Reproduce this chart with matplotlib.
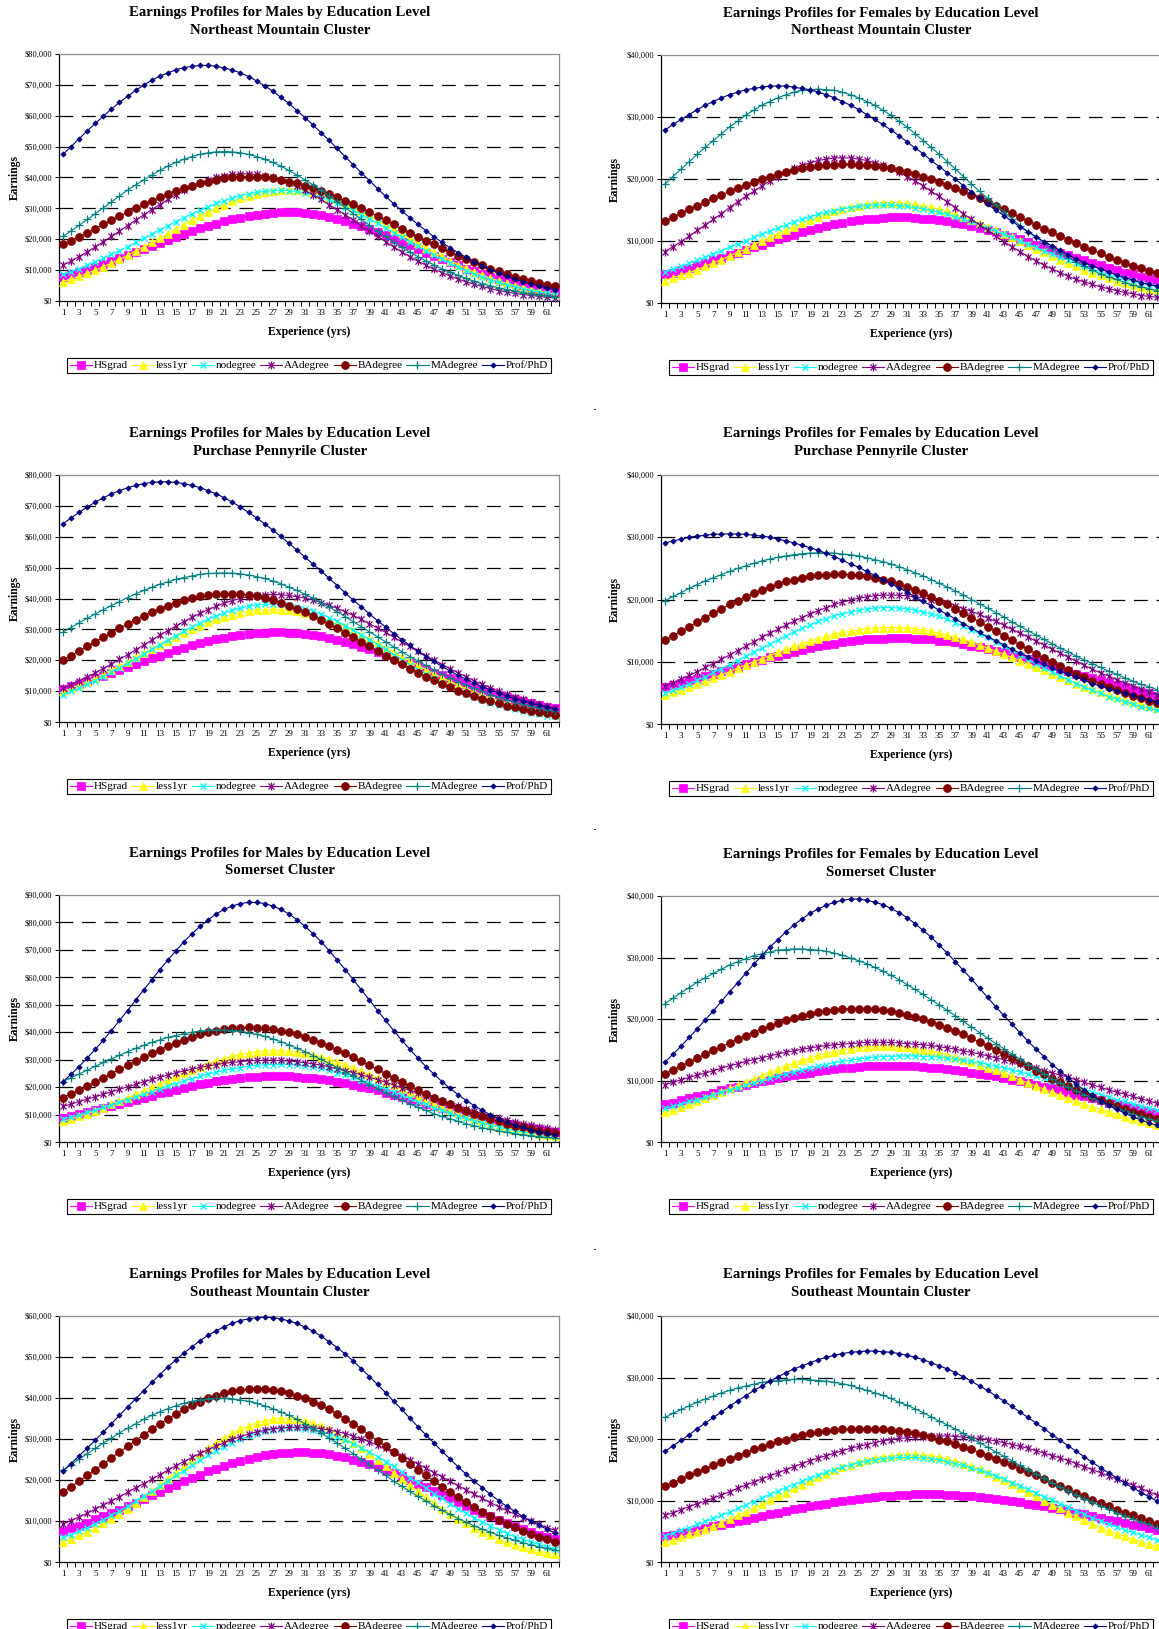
#!/usr/bin/env python3
"""
Earnings profiles by education level, males and females, four clusters.
Values are earnings in thousands of dollars for experience years 1..62.
"""

import matplotlib
matplotlib.use('Agg')
import matplotlib.pyplot as plt
from matplotlib.lines import Line2D
from matplotlib.path import Path
from matplotlib.patches import Rectangle
from matplotlib.ticker import FuncFormatter, MultipleLocator
import numpy as np

# ---- Northeast Mountain, males
nem_hsgrad = [7.9,8.6,9.4,10.2,11.1,12.0,12.9,13.9,14.8,15.8,16.8,17.8,18.8,19.8,20.8,21.7,22.6,23.5,24.3,25.1,25.8,26.5,27.0,27.5,28.0,28.3,28.5,28.7,28.7,28.7,28.5,28.2,27.8,27.2,26.6,25.9,25.1,24.3,23.3,22.3,21.3,20.2,19.1,18.0,16.9,15.7,14.7,13.6,12.5,11.5,10.5,9.6,8.7,7.9,7.1,6.4,5.7,5.0,4.5,3.9,3.5,3.0]
nem_less1yr = [6.3,7.1,8.0,9.0,10.0,11.1,12.3,13.5,14.8,16.2,17.5,19.0,20.4,21.8,23.3,24.7,26.2,27.5,28.8,30.1,31.2,32.3,33.2,34.1,34.7,35.3,35.7,35.9,36.0,35.9,35.6,35.2,34.6,33.8,32.9,31.8,30.6,29.3,27.9,26.5,25.0,23.4,21.9,20.4,18.8,17.3,15.8,14.5,13.1,11.8,10.6,9.4,8.4,7.4,6.5,5.7,5.0,4.3,3.7,3.2,2.7,2.3]
nem_nodegree = [8.6,9.5,10.5,11.6,12.7,13.9,15.1,16.3,17.6,19.0,20.3,21.7,23.0,24.4,25.7,27.0,28.2,29.4,30.5,31.6,32.5,33.4,34.1,34.7,35.2,35.5,35.7,35.8,35.7,35.5,35.0,34.4,33.7,32.8,31.8,30.6,29.4,28.0,26.6,25.2,23.6,22.1,20.6,19.1,17.7,16.3,14.8,13.5,12.2,11.0,9.8,8.8,7.8,6.9,6.0,5.3,4.6,4.0,3.4,2.9,2.5,2.1]
nem_aadegree = [11.6,12.9,14.4,15.9,17.5,19.2,20.9,22.6,24.4,26.2,27.9,29.6,31.2,32.9,34.4,35.8,37.1,38.2,39.2,40.0,40.6,41.0,41.2,41.2,41.0,40.6,40.0,39.2,38.2,37.1,35.8,34.4,32.9,31.2,29.6,27.9,26.2,24.4,22.6,20.9,19.2,17.5,15.9,14.4,12.9,11.6,10.3,9.2,8.1,7.1,6.2,5.4,4.7,4.0,3.4,2.9,2.5,2.1,1.8,1.5,1.2,1.0]
nem_badegree = [18.3,19.5,20.8,22.1,23.4,24.8,26.1,27.5,28.7,30.0,31.3,32.4,33.6,34.6,35.6,36.5,37.4,38.1,38.7,39.3,39.7,40.0,40.1,40.2,40.1,40.0,39.7,39.3,38.7,38.1,37.4,36.5,35.6,34.6,33.6,32.4,31.3,30.0,28.7,27.5,26.1,24.8,23.4,22.1,20.8,19.5,18.3,17.1,15.8,14.7,13.6,12.5,11.5,10.5,9.6,8.8,7.9,7.2,6.5,5.8,5.2,4.7]
nem_madegree = [20.9,22.7,24.5,26.4,28.3,30.2,32.1,34.0,35.9,37.6,39.2,40.8,42.3,43.7,44.9,45.9,46.8,47.5,48.0,48.3,48.4,48.3,48.0,47.5,46.8,45.9,44.9,43.7,42.3,40.8,39.2,37.6,35.9,34.0,32.1,30.2,28.3,26.4,24.5,22.7,20.9,19.2,17.5,15.9,14.4,13.0,11.7,10.4,9.3,8.3,7.3,6.4,5.6,4.9,4.3,3.7,3.2,2.7,2.3,2.0,1.7,1.4]
nem_profphd = [47.5,50.0,52.6,55.1,57.5,59.9,62.2,64.3,66.3,68.2,69.9,71.5,72.8,73.9,74.9,75.6,76.0,76.3,76.3,76.0,75.5,74.8,73.9,72.7,71.3,69.7,68.0,66.0,64.0,61.7,59.4,57.0,54.5,52.0,49.4,46.7,44.1,41.5,39.0,36.4,33.9,31.5,29.2,27.0,24.8,22.8,20.8,19.0,17.2,15.6,14.1,12.7,11.4,10.2,9.1,8.0,7.1,6.3,5.5,4.9,4.2,3.7]

# ---- Northeast Mountain, females
nef_hsgrad = [4.6,4.9,5.3,5.7,6.1,6.5,6.9,7.3,7.7,8.1,8.6,9.0,9.4,9.8,10.3,10.7,11.0,11.4,11.8,12.1,12.4,12.7,12.9,13.2,13.4,13.5,13.6,13.7,13.8,13.8,13.8,13.7,13.6,13.5,13.4,13.2,12.9,12.7,12.4,12.1,11.8,11.4,11.0,10.7,10.3,9.8,9.4,9.0,8.6,8.1,7.7,7.3,6.9,6.5,6.1,5.7,5.3,4.9,4.6,4.2,3.9,3.6]
nef_less1yr = [3.6,4.1,4.5,4.9,5.4,5.9,6.5,7.0,7.6,8.2,8.7,9.4,10.0,10.6,11.2,11.8,12.3,12.9,13.4,13.9,14.3,14.8,15.1,15.5,15.7,15.9,16.1,16.2,16.2,16.2,16.1,15.9,15.7,15.5,15.1,14.8,14.3,13.9,13.4,12.9,12.3,11.8,11.2,10.6,10.0,9.4,8.7,8.2,7.6,7.0,6.5,5.9,5.4,4.9,4.5,4.1,3.6,3.3,2.9,2.6,2.3,2.1]
nef_nodegree = [5.0,5.5,5.9,6.4,6.9,7.4,7.9,8.4,9.0,9.5,10.0,10.6,11.1,11.6,12.1,12.6,13.1,13.5,13.9,14.3,14.6,14.9,15.2,15.4,15.6,15.7,15.8,15.8,15.8,15.7,15.6,15.4,15.2,14.9,14.6,14.3,13.9,13.5,13.1,12.6,12.1,11.6,11.1,10.6,10.0,9.5,9.0,8.4,7.9,7.4,6.9,6.4,5.9,5.5,5.0,4.6,4.2,3.8,3.5,3.2,2.9,2.6]
nef_aadegree = [8.3,9.1,9.9,10.8,11.7,12.6,13.5,14.4,15.4,16.3,17.2,18.0,18.9,19.7,20.4,21.1,21.7,22.2,22.6,23.0,23.2,23.4,23.4,23.4,23.2,23.0,22.6,22.2,21.7,21.1,20.4,19.7,18.9,18.0,17.2,16.3,15.4,14.4,13.5,12.6,11.7,10.8,9.9,9.1,8.3,7.5,6.8,6.1,5.5,4.9,4.3,3.8,3.4,3.0,2.6,2.3,2.0,1.7,1.5,1.2,1.1,0.9]
nef_badegree = [13.3,13.8,14.5,15.1,15.7,16.3,16.9,17.4,18.0,18.5,19.0,19.5,20.0,20.4,20.8,21.1,21.4,21.7,21.9,22.1,22.2,22.3,22.4,22.4,22.3,22.2,22.1,21.9,21.7,21.4,21.1,20.8,20.4,20.0,19.5,19.0,18.5,18.0,17.4,16.9,16.3,15.7,15.1,14.5,13.8,13.3,12.6,12.0,11.4,10.8,10.2,9.6,9.1,8.5,8.0,7.4,7.0,6.5,6.0,5.6,5.2,4.8]
nef_madegree = [19.2,20.4,21.6,22.8,24.0,25.1,26.2,27.3,28.4,29.3,30.3,31.1,31.9,32.5,33.1,33.6,34.0,34.3,34.4,34.5,34.4,34.3,34.0,33.6,33.1,32.5,31.9,31.1,30.3,29.3,28.4,27.3,26.2,25.1,24.0,22.8,21.6,20.4,19.2,18.0,16.9,15.8,14.7,13.6,12.5,11.5,10.6,9.7,8.8,8.0,7.3,6.6,5.9,5.3,4.7,4.2,3.8,3.3,2.9,2.6,2.3,2.0]
nef_profphd = [27.9,28.8,29.6,30.4,31.2,31.9,32.5,33.1,33.6,34.0,34.4,34.6,34.8,35.0,35.0,35.0,34.8,34.6,34.4,34.0,33.6,33.1,32.5,31.9,31.2,30.4,29.6,28.8,27.9,27.0,26.0,25.0,24.1,23.0,22.0,21.0,20.0,18.9,17.9,16.9,15.9,15.0,14.1,13.2,12.3,11.5,10.7,9.9,9.2,8.5,7.8,7.1,6.5,6.0,5.5,5.0,4.5,4.1,3.7,3.3,3.0,2.7]

# ---- Purchase Pennyrile, males
ppm_hsgrad = [10.7,11.5,12.4,13.2,14.1,15.0,16.0,16.9,17.8,18.8,19.7,20.6,21.5,22.4,23.2,24.0,24.8,25.5,26.2,26.8,27.3,27.8,28.2,28.5,28.7,28.9,29.0,29.0,28.9,28.7,28.5,28.1,27.7,27.2,26.6,25.9,25.2,24.4,23.6,22.7,21.8,20.9,19.9,19.0,18.0,17.0,16.0,15.1,14.1,13.2,12.2,11.4,10.5,9.7,8.9,8.2,7.5,6.8,6.2,5.6,5.0,4.5]
ppm_less1yr = [9.9,10.9,12.0,13.1,14.3,15.6,16.9,18.2,19.5,20.9,22.3,23.6,25.0,26.3,27.6,28.9,30.1,31.2,32.3,33.2,34.1,34.8,35.4,35.9,36.2,36.4,36.5,36.4,36.2,35.8,35.3,34.6,33.8,32.9,31.9,30.8,29.5,28.2,26.9,25.5,24.1,22.7,21.2,19.8,18.4,17.0,15.6,14.4,13.1,11.9,10.8,9.7,8.7,7.8,6.9,6.1,5.4,4.8,4.2,3.6,3.1,2.7]
ppm_nodegree = [8.9,9.9,11.0,12.2,13.4,14.7,16.1,17.5,19.0,20.5,22.0,23.5,25.0,26.5,28.0,29.4,30.8,32.1,33.3,34.4,35.3,36.2,36.9,37.5,37.9,38.1,38.2,38.1,37.8,37.4,36.7,35.9,34.9,33.8,32.6,31.2,29.8,28.3,26.7,25.1,23.5,21.8,20.2,18.6,17.0,15.5,14.1,12.7,11.4,10.2,9.1,8.1,7.1,6.2,5.4,4.7,4.1,3.5,3.0,2.5,2.1,1.8]
ppm_aadegree = [10.9,12.1,13.3,14.6,15.9,17.3,18.8,20.3,21.8,23.4,24.9,26.5,28.1,29.6,31.1,32.5,33.9,35.2,36.4,37.5,38.5,39.3,40.0,40.6,41.0,41.2,41.3,41.2,41.0,40.6,40.1,39.5,38.7,37.8,36.8,35.7,34.5,33.2,31.8,30.4,29.0,27.5,26.0,24.5,22.9,21.4,20.0,18.6,17.2,15.9,14.6,13.3,12.2,11.1,10.0,9.0,8.1,7.3,6.5,5.8,5.1,4.5]
ppm_badegree = [20.1,21.5,23.0,24.5,26.0,27.4,28.9,30.3,31.7,33.1,34.4,35.6,36.7,37.7,38.7,39.5,40.2,40.7,41.2,41.4,41.6,41.6,41.4,41.2,40.7,40.2,39.5,38.7,37.7,36.7,35.6,34.4,33.1,31.7,30.3,28.9,27.4,26.0,24.5,23.0,21.5,20.1,18.7,17.3,16.0,14.7,13.5,12.3,11.3,10.2,9.3,8.3,7.5,6.7,6.0,5.3,4.7,4.2,3.7,3.2,2.8,2.4]
ppm_madegree = [29.2,30.6,32.1,33.6,35.0,36.4,37.7,39.0,40.3,41.5,42.6,43.6,44.6,45.4,46.2,46.8,47.3,47.8,48.1,48.2,48.3,48.2,48.0,47.6,47.1,46.5,45.7,44.8,43.7,42.6,41.4,40.1,38.6,37.2,35.7,34.1,32.5,30.9,29.2,27.6,26.0,24.4,22.8,21.2,19.8,18.3,16.9,15.6,14.3,13.1,12.0,10.9,9.9,8.9,8.0,7.2,6.5,5.8,5.1,4.6,4.0,3.6]
ppm_profphd = [64.2,66.1,67.9,69.6,71.2,72.6,73.9,74.9,75.9,76.6,77.2,77.6,77.8,77.8,77.6,77.2,76.6,75.9,74.9,73.9,72.6,71.2,69.6,67.9,66.1,64.2,62.2,60.1,57.9,55.7,53.4,51.1,48.9,46.5,44.2,41.8,39.4,37.3,35.0,32.8,30.8,28.6,26.7,24.8,22.9,21.2,19.6,18.0,16.5,15.1,13.8,12.6,11.4,10.4,9.4,8.4,7.6,6.8,6.1,5.4,4.8,4.3]

# ---- Purchase Pennyrile, females
ppf_hsgrad = [5.9,6.3,6.6,7.0,7.3,7.7,8.1,8.5,8.8,9.2,9.6,9.9,10.3,10.7,11.0,11.3,11.6,11.9,12.2,12.5,12.7,12.9,13.1,13.3,13.5,13.6,13.7,13.7,13.8,13.8,13.8,13.7,13.7,13.6,13.4,13.3,13.1,12.9,12.6,12.4,12.1,11.8,11.5,11.1,10.8,10.4,10.1,9.7,9.3,8.9,8.5,8.1,7.7,7.4,7.0,6.6,6.2,5.9,5.5,5.2,4.9,4.5]
ppf_less1yr = [4.7,5.1,5.5,6.0,6.5,6.9,7.4,7.9,8.4,9.0,9.5,10.0,10.5,11.0,11.5,12.0,12.5,12.9,13.3,13.7,14.1,14.4,14.7,14.9,15.1,15.3,15.4,15.5,15.5,15.5,15.4,15.3,15.1,14.9,14.6,14.3,14.0,13.6,13.2,12.7,12.2,11.7,11.2,10.7,10.2,9.6,9.1,8.6,8.0,7.5,7.0,6.5,6.0,5.6,5.1,4.7,4.3,3.9,3.5,3.2,2.9,2.6]
ppf_nodegree = [4.9,5.4,5.9,6.5,7.0,7.6,8.3,8.9,9.5,10.2,10.9,11.5,12.2,12.9,13.5,14.2,14.8,15.4,15.9,16.5,16.9,17.4,17.7,18.0,18.3,18.5,18.6,18.7,18.7,18.6,18.5,18.3,18.0,17.7,17.3,16.8,16.3,15.7,15.1,14.5,13.9,13.2,12.5,11.9,11.1,10.4,9.7,9.0,8.4,7.7,7.1,6.5,5.9,5.4,4.9,4.4,4.0,3.6,3.2,2.8,2.5,2.2]
ppf_aadegree = [6.1,6.6,7.2,7.8,8.4,9.1,9.7,10.4,11.1,11.8,12.5,13.2,13.9,14.6,15.2,15.9,16.5,17.1,17.7,18.2,18.7,19.2,19.6,19.9,20.2,20.4,20.6,20.7,20.7,20.7,20.6,20.4,20.3,20.0,19.7,19.4,19.0,18.5,18.1,17.6,17.0,16.5,15.9,15.2,14.6,14.0,13.3,12.7,12.0,11.4,10.7,10.1,9.4,8.8,8.2,7.7,7.1,6.6,6.1,5.6,5.1,4.7]
ppf_badegree = [13.5,14.2,14.9,15.6,16.4,17.1,17.8,18.5,19.2,19.8,20.4,21.0,21.5,22.0,22.5,22.9,23.2,23.5,23.7,23.9,24.0,24.1,24.1,24.0,23.9,23.7,23.5,23.2,22.9,22.5,22.0,21.5,21.0,20.4,19.8,19.2,18.5,17.8,17.1,16.4,15.6,14.9,14.2,13.5,12.7,12.0,11.3,10.6,9.9,9.3,8.7,8.0,7.5,6.9,6.4,5.9,5.4,4.9,4.5,4.1,3.7,3.4]
ppf_madegree = [19.8,20.5,21.1,21.8,22.4,23.0,23.5,24.0,24.5,25.0,25.4,25.8,26.2,26.5,26.8,27.0,27.2,27.35,27.45,27.5,27.5,27.45,27.3,27.2,27.0,26.7,26.4,26.1,25.7,25.3,24.8,24.3,23.8,23.2,22.6,22.0,21.4,20.7,20.0,19.3,18.6,17.9,17.2,16.4,15.7,15.0,14.3,13.6,12.9,12.2,11.6,10.9,10.3,9.7,9.1,8.5,8.0,7.4,6.9,6.4,6.0,5.5]
ppf_profphd = [29.1,29.4,29.7,30.0,30.2,30.3,30.5,30.5,30.55,30.5,30.5,30.3,30.2,30.0,29.7,29.4,29.1,28.7,28.3,27.9,27.4,26.9,26.3,25.7,25.2,24.5,23.9,23.2,22.5,21.9,21.2,20.4,19.7,19.0,18.3,17.6,16.9,16.1,15.4,14.7,14.0,13.4,12.7,12.0,11.4,10.8,10.2,9.6,9.0,8.5,8.0,7.5,7.0,6.5,6.1,5.7,5.3,4.9,4.6,4.2,3.9,3.6]

# ---- Somerset, males
som_hsgrad = [8.7,9.3,10.1,10.8,11.5,12.3,13.0,13.8,14.6,15.4,16.2,16.9,17.7,18.4,19.1,19.8,20.5,21.1,21.6,22.1,22.6,23.0,23.3,23.6,23.8,23.9,24.0,24.0,23.9,23.8,23.5,23.2,22.9,22.5,22.0,21.4,20.8,20.2,19.5,18.8,18.0,17.3,16.5,15.7,14.8,14.0,13.2,12.4,11.6,10.8,10.1,9.4,8.6,8.0,7.3,6.7,6.1,5.6,5.1,4.6,4.1,3.7]
som_less1yr = [7.5,8.4,9.3,10.3,11.4,12.5,13.7,14.9,16.1,17.4,18.7,20.0,21.3,22.6,23.9,25.2,26.4,27.5,28.6,29.6,30.4,31.2,31.9,32.4,32.9,33.1,33.3,33.3,33.1,32.8,32.4,31.8,31.1,30.2,29.3,28.2,27.1,25.9,24.6,23.3,22.0,20.6,19.2,17.9,16.5,15.2,14.0,12.7,11.6,10.5,9.5,8.4,7.6,6.7,5.9,5.2,4.6,4.0,3.5,3.0,2.6,2.2]
som_nodegree = [8.3,9.1,9.9,10.8,11.6,12.6,13.5,14.5,15.4,16.4,17.4,18.4,19.4,20.4,21.3,22.2,23.1,23.9,24.7,25.4,26.1,26.6,27.1,27.6,27.9,28.1,28.2,28.3,28.2,28.0,27.7,27.3,26.8,26.1,25.3,24.5,23.6,22.6,21.6,20.5,19.3,18.2,17.1,15.9,14.7,13.7,12.5,11.5,10.5,9.5,8.6,7.7,6.9,6.2,5.5,4.8,4.3,3.7,3.3,2.8,2.4,2.1]
som_aadegree = [13.0,13.8,14.7,15.6,16.5,17.4,18.3,19.2,20.1,21.0,21.9,22.8,23.6,24.4,25.2,25.9,26.5,27.2,27.7,28.2,28.7,29.0,29.3,29.6,29.7,29.8,29.8,29.7,29.5,29.3,28.9,28.5,28.0,27.4,26.7,26.0,25.3,24.4,23.6,22.7,21.8,20.8,19.8,18.8,17.9,16.9,15.9,14.9,13.9,13.0,12.1,11.2,10.4,9.6,8.8,8.1,7.4,6.7,6.1,5.5,5.0,4.5]
som_badegree = [16.2,17.6,18.9,20.4,21.8,23.4,24.9,26.5,27.9,29.4,30.9,32.3,33.6,35.0,36.2,37.3,38.3,39.2,40.0,40.6,41.1,41.5,41.7,41.8,41.7,41.5,41.1,40.6,40.0,39.2,38.3,37.3,36.2,35.0,33.6,32.3,30.9,29.4,27.9,26.5,24.9,23.4,21.8,20.4,18.9,17.6,16.2,14.9,13.7,12.5,11.3,10.3,9.3,8.4,7.5,6.7,6.0,5.3,4.7,4.1,3.6,3.2]
som_madegree = [22.0,23.4,24.8,26.2,27.6,29.0,30.3,31.6,32.9,34.1,35.2,36.3,37.2,38.1,38.8,39.5,40.0,40.4,40.65,40.8,40.8,40.6,40.3,39.8,39.2,38.5,37.6,36.6,35.4,34.2,32.9,31.5,30.1,28.6,27.1,25.5,24.0,22.4,20.9,19.4,17.9,16.6,15.2,13.9,12.6,11.5,10.3,9.3,8.4,7.5,6.6,5.9,5.2,4.6,4.0,3.5,3.0,2.6,2.3,1.9,1.7,1.4]
som_profphd = [22.0,24.7,27.5,30.6,33.8,37.1,40.6,44.3,47.9,51.7,55.4,59.1,62.8,66.3,69.7,73.0,75.9,78.6,81.0,83.1,84.8,86.0,86.9,87.3,87.3,86.9,86.0,84.8,83.1,81.0,78.6,75.9,73.0,69.7,66.3,62.8,59.1,55.4,51.7,47.9,44.3,40.6,37.1,33.8,30.6,27.5,24.7,22.0,19.5,17.2,15.1,13.2,11.5,9.9,8.5,7.3,6.2,5.3,4.5,3.7,3.1,2.6]

# ---- Somerset, females
sof_hsgrad = [6.1,6.4,6.8,7.1,7.4,7.7,8.0,8.4,8.7,9.0,9.3,9.6,9.9,10.1,10.4,10.7,10.9,11.1,11.3,11.5,11.7,11.9,12.0,12.1,12.2,12.3,12.4,12.4,12.4,12.4,12.4,12.3,12.2,12.1,12.0,11.9,11.7,11.5,11.3,11.1,10.9,10.7,10.4,10.1,9.9,9.6,9.3,9.0,8.7,8.4,8.0,7.7,7.4,7.1,6.8,6.4,6.1,5.8,5.5,5.2,4.9,4.6]
sof_less1yr = [4.8,5.2,5.7,6.1,6.6,7.1,7.6,8.2,8.7,9.2,9.8,10.3,10.8,11.4,11.9,12.4,12.8,13.3,13.7,14.1,14.4,14.7,15.0,15.2,15.4,15.5,15.6,15.6,15.6,15.5,15.4,15.2,15.0,14.8,14.5,14.2,13.8,13.4,13.0,12.6,12.1,11.7,11.2,10.7,10.1,9.6,9.1,8.6,8.1,7.6,7.1,6.6,6.1,5.7,5.3,4.9,4.5,4.1,3.7,3.4,3.1,2.8]
sof_nodegree = [5.5,5.8,6.2,6.6,6.9,7.3,7.7,8.1,8.5,8.8,9.2,9.6,10.0,10.4,10.7,11.1,11.4,11.7,12.1,12.3,12.6,12.9,13.1,13.3,13.5,13.6,13.8,13.9,13.9,14.0,14.0,14.0,13.9,13.9,13.8,13.6,13.5,13.3,13.1,12.9,12.6,12.3,12.1,11.7,11.4,11.1,10.7,10.4,10.0,9.6,9.2,8.8,8.5,8.1,7.7,7.3,6.9,6.6,6.2,5.8,5.5,5.2]
sof_aadegree = [9.3,9.7,10.1,10.5,10.9,11.2,11.6,12.0,12.4,12.7,13.1,13.4,13.7,14.0,14.3,14.6,14.8,15.1,15.3,15.5,15.7,15.8,15.9,16.0,16.1,16.2,16.2,16.2,16.2,16.1,16.0,15.9,15.8,15.7,15.5,15.3,15.1,14.8,14.6,14.3,14.0,13.7,13.4,13.1,12.7,12.4,12.0,11.6,11.2,10.9,10.5,10.1,9.7,9.3,8.9,8.5,8.1,7.8,7.4,7.0,6.7,6.3]
sof_badegree = [11.1,11.7,12.4,13.0,13.6,14.3,14.9,15.5,16.1,16.7,17.3,17.8,18.4,18.9,19.3,19.8,20.1,20.5,20.8,21.1,21.3,21.5,21.6,21.7,21.7,21.7,21.6,21.5,21.3,21.0,20.7,20.4,20.0,19.5,19.1,18.6,18.0,17.5,16.9,16.2,15.6,15.0,14.3,13.6,13.0,12.3,11.6,11.0,10.3,9.7,9.1,8.5,7.9,7.3,6.8,6.3,5.8,5.3,4.9,4.5,4.1,3.7]
sof_madegree = [22.5,23.4,24.3,25.1,26.0,26.7,27.4,28.1,28.8,29.3,29.8,30.3,30.6,30.9,31.2,31.3,31.4,31.4,31.3,31.2,31.0,30.7,30.4,29.9,29.5,29.0,28.4,27.8,27.1,26.4,25.6,24.8,24.0,23.1,22.3,21.4,20.5,19.6,18.7,17.8,16.9,16.0,15.2,14.3,13.5,12.6,11.8,11.1,10.3,9.6,8.9,8.3,7.7,7.1,6.5,6.0,5.5,5.0,4.6,4.1,3.8,3.4]
sof_profphd = [13.0,14.3,15.6,17.0,18.4,19.9,21.3,22.9,24.4,25.9,27.4,28.9,30.3,31.7,32.9,34.2,35.3,36.3,37.2,37.9,38.5,39.0,39.3,39.5,39.5,39.3,39.0,38.6,38.0,37.3,36.5,35.5,34.4,33.3,32.0,30.7,29.3,27.9,26.5,25.0,23.5,22.0,20.6,19.2,17.8,16.4,15.1,13.9,12.6,11.5,10.4,9.4,8.4,7.6,6.7,6.0,5.3,4.7,4.1,3.6,3.1,2.7]

# ---- Southeast Mountain, males
sem_hsgrad = [7.5,8.2,8.9,9.6,10.4,11.2,12.0,12.8,13.6,14.5,15.4,16.3,17.1,18.0,18.9,19.7,20.5,21.3,22.1,22.8,23.5,24.1,24.7,25.2,25.6,26.0,26.3,26.6,26.7,26.8,26.8,26.7,26.5,26.3,25.9,25.5,25.0,24.5,23.9,23.2,22.5,21.7,20.9,20.0,19.1,18.2,17.3,16.4,15.5,14.6,13.7,12.8,11.9,11.1,10.3,9.5,8.7,8.0,7.3,6.7,6.0,5.5]
sem_less1yr = [4.9,5.6,6.5,7.3,8.3,9.4,10.5,11.7,13.0,14.4,15.8,17.2,18.7,20.3,21.8,23.3,24.8,26.3,27.7,29.0,30.2,31.4,32.4,33.2,33.9,34.4,34.8,35.0,35.0,34.8,34.4,33.9,33.2,32.4,31.4,30.2,29.0,27.7,26.3,24.8,23.3,21.8,20.3,18.7,17.2,15.8,14.4,13.0,11.7,10.5,9.4,8.3,7.3,6.5,5.6,4.9,4.2,3.6,3.1,2.7,2.2,1.9]
sem_nodegree = [6.0,6.7,7.5,8.4,9.3,10.3,11.4,12.4,13.6,14.8,16.0,17.2,18.5,19.8,21.1,22.3,23.6,24.8,26.0,27.1,28.1,29.1,29.9,30.7,31.3,31.9,32.3,32.5,32.7,32.7,32.5,32.3,31.8,31.3,30.6,29.8,28.9,27.9,26.8,25.7,24.5,23.3,22.0,20.6,19.4,18.1,16.7,15.5,14.2,13.0,11.9,10.8,9.8,8.8,7.9,7.0,6.2,5.5,4.9,4.3,3.7,3.2]
sem_aadegree = [9.3,10.1,11.0,11.9,12.9,13.9,14.9,15.9,17.0,18.1,19.1,20.2,21.3,22.4,23.5,24.5,25.5,26.5,27.4,28.3,29.1,29.9,30.6,31.2,31.7,32.1,32.5,32.7,32.85,32.9,32.85,32.7,32.5,32.2,31.8,31.3,30.7,30.0,29.3,28.5,27.7,26.8,25.9,24.9,23.9,22.9,21.8,20.8,19.7,18.6,17.6,16.5,15.5,14.5,13.5,12.6,11.7,10.8,10.0,9.2,8.4,7.7]
sem_badegree = [17.1,18.4,19.7,21.1,22.5,23.9,25.4,26.8,28.2,29.6,31.0,32.4,33.7,34.9,36.1,37.2,38.2,39.1,39.9,40.6,41.2,41.6,41.9,42.1,42.2,42.1,41.9,41.6,41.2,40.6,39.9,39.1,38.2,37.2,36.1,34.9,33.7,32.4,31.0,29.6,28.2,26.8,25.4,23.9,22.5,21.1,19.7,18.4,17.1,15.8,14.6,13.4,12.3,11.3,10.3,9.3,8.5,7.6,6.9,6.2,5.5,4.9]
sem_madegree = [22.4,23.7,25.1,26.4,27.7,29.0,30.2,31.5,32.6,33.7,34.8,35.8,36.6,37.4,38.1,38.7,39.2,39.5,39.8,39.9,39.9,39.8,39.5,39.2,38.7,38.1,37.4,36.6,35.8,34.8,33.7,32.6,31.5,30.2,29.0,27.7,26.4,25.1,23.7,22.4,21.1,19.7,18.5,17.2,16.0,14.9,13.7,12.6,11.6,10.6,9.7,8.8,8.0,7.3,6.5,5.9,5.3,4.7,4.2,3.7,3.3,2.9]
sem_profphd = [22.2,24.0,25.9,27.8,29.7,31.7,33.7,35.8,37.8,39.8,41.8,43.8,45.7,47.6,49.3,51.0,52.5,54.0,55.3,56.4,57.4,58.2,58.9,59.3,59.6,59.7,59.6,59.3,58.8,58.2,57.3,56.3,55.1,53.7,52.3,50.7,49.0,47.1,45.2,43.3,41.3,39.2,37.2,35.1,33.0,31.0,29.0,27.0,25.1,23.2,21.4,19.7,18.1,16.5,15.0,13.6,12.4,11.1,10.0,9.0,8.0,7.1]

# ---- Southeast Mountain, females
sef_hsgrad = [4.2,4.4,4.7,4.9,5.2,5.5,5.8,6.0,6.3,6.6,6.9,7.2,7.5,7.8,8.0,8.3,8.6,8.8,9.1,9.3,9.5,9.7,9.9,10.1,10.3,10.4,10.6,10.7,10.8,10.9,10.9,11.0,11.0,11.0,11.0,10.9,10.9,10.8,10.7,10.6,10.4,10.3,10.1,9.9,9.7,9.5,9.3,9.1,8.8,8.6,8.3,8.0,7.8,7.5,7.2,6.9,6.6,6.3,6.0,5.8,5.5,5.2]
sef_less1yr = [3.3,3.6,4.0,4.5,4.9,5.4,5.9,6.4,7.0,7.6,8.2,8.8,9.4,10.1,10.7,11.3,12.0,12.6,13.2,13.8,14.3,14.9,15.4,15.8,16.2,16.6,16.9,17.1,17.3,17.4,17.5,17.5,17.4,17.3,17.1,16.8,16.4,16.0,15.6,15.1,14.5,13.9,13.3,12.7,12.0,11.4,10.7,10.0,9.3,8.7,8.0,7.4,6.8,6.2,5.6,5.1,4.6,4.2,3.7,3.3,2.9,2.6]
sef_nodegree = [4.3,4.7,5.2,5.6,6.1,6.6,7.1,7.6,8.1,8.7,9.3,9.8,10.4,11.0,11.5,12.1,12.6,13.1,13.7,14.1,14.6,15.0,15.4,15.8,16.1,16.4,16.6,16.8,16.9,17.0,17.0,17.0,16.9,16.8,16.6,16.3,16.0,15.7,15.3,14.9,14.5,14.0,13.5,12.9,12.4,11.8,11.2,10.6,10.1,9.5,8.9,8.3,7.8,7.2,6.7,6.2,5.7,5.2,4.8,4.4,4.0,3.6]
sef_aadegree = [7.6,8.0,8.5,9.0,9.5,9.9,10.4,10.9,11.4,12.0,12.5,13.0,13.5,14.0,14.5,15.0,15.5,16.0,16.5,16.9,17.3,17.7,18.1,18.5,18.8,19.1,19.4,19.7,19.9,20.1,20.2,20.3,20.4,20.5,20.5,20.5,20.4,20.3,20.2,20.1,19.9,19.7,19.4,19.1,18.8,18.5,18.1,17.7,17.3,16.9,16.5,16.0,15.5,15.0,14.5,14.0,13.5,13.0,12.5,12.0,11.4,10.9]
sef_badegree = [12.3,12.9,13.5,14.1,14.6,15.2,15.7,16.3,16.8,17.3,17.8,18.3,18.7,19.2,19.6,19.9,20.3,20.6,20.9,21.1,21.3,21.45,21.6,21.65,21.7,21.7,21.65,21.6,21.45,21.3,21.1,20.9,20.6,20.3,19.9,19.6,19.2,18.7,18.3,17.8,17.3,16.8,16.3,15.7,15.2,14.6,14.1,13.5,12.9,12.3,11.8,11.2,10.7,10.1,9.6,9.1,8.5,8.0,7.6,7.1,6.6,6.2]
sef_madegree = [23.5,24.2,24.8,25.4,26.0,26.5,27.0,27.5,27.9,28.3,28.6,28.9,29.2,29.4,29.5,29.6,29.7,29.7,29.6,29.5,29.4,29.2,29.0,28.7,28.3,27.9,27.5,27.1,26.6,26.0,25.5,24.9,24.3,23.6,22.9,22.3,21.6,20.9,20.1,19.4,18.7,17.9,17.2,16.5,15.7,15.0,14.3,13.6,12.9,12.2,11.6,10.9,10.3,9.7,9.1,8.6,8.0,7.5,7.0,6.5,6.1,5.6]
sef_profphd = [18.0,18.9,19.8,20.7,21.7,22.6,23.5,24.4,25.3,26.2,27.0,27.9,28.6,29.4,30.1,30.8,31.4,31.9,32.4,32.9,33.3,33.6,33.9,34.1,34.2,34.3,34.3,34.2,34.1,33.9,33.6,33.3,32.9,32.4,31.9,31.4,30.8,30.1,29.4,28.6,27.9,27.0,26.2,25.3,24.4,23.5,22.6,21.7,20.7,19.8,18.9,18.0,17.1,16.2,15.3,14.5,13.7,12.8,12.1,11.3,10.6,9.9]

EDUCATION = ['HSgrad', 'less1yr', 'nodegree', 'AAdegree', 'BAdegree', 'MAdegree', 'Prof/PhD']
CLUSTERS = ['Northeast Mountain', 'Purchase Pennyrile', 'Somerset', 'Southeast Mountain']
MALE_YMAX = [80, 80, 90, 60]
FEMALE_YMAX = [40, 40, 40, 40]

MALE_SERIES = [
    [nem_hsgrad, nem_less1yr, nem_nodegree, nem_aadegree, nem_badegree, nem_madegree, nem_profphd],
    [ppm_hsgrad, ppm_less1yr, ppm_nodegree, ppm_aadegree, ppm_badegree, ppm_madegree, ppm_profphd],
    [som_hsgrad, som_less1yr, som_nodegree, som_aadegree, som_badegree, som_madegree, som_profphd],
    [sem_hsgrad, sem_less1yr, sem_nodegree, sem_aadegree, sem_badegree, sem_madegree, sem_profphd],
]
FEMALE_SERIES = [
    [nef_hsgrad, nef_less1yr, nef_nodegree, nef_aadegree, nef_badegree, nef_madegree, nef_profphd],
    [ppf_hsgrad, ppf_less1yr, ppf_nodegree, ppf_aadegree, ppf_badegree, ppf_madegree, ppf_profphd],
    [sof_hsgrad, sof_less1yr, sof_nodegree, sof_aadegree, sof_badegree, sof_madegree, sof_profphd],
    [sef_hsgrad, sef_less1yr, sef_nodegree, sef_aadegree, sef_badegree, sef_madegree, sef_profphd],
]

plt.rcParams['font.family'] = ['Liberation Serif', 'DejaVu Serif']

# Excel-style asterisk: an x with a vertical bar
STAR = Path([(0, -1), (0, 1), (-0.75, -0.75), (0.75, 0.75), (-0.75, 0.75), (0.75, -0.75)],
            [Path.MOVETO, Path.LINETO] * 3)

STYLES = {
    'HSgrad':   dict(color='#FF00FF', marker='s', ms=5.3, mew=0.5, mfc='#FF00FF'),
    'less1yr':  dict(color='#FFFF00', marker='^', ms=6.3, mew=0.5, mfc='#FFFF00'),
    'nodegree': dict(color='#00FFFF', marker='x', ms=5.0, mew=1.0, mfc='none'),
    'AAdegree': dict(color='#800080', marker=STAR, ms=5.8, mew=0.9, mfc='none'),
    'BAdegree': dict(color='#800000', marker='o', ms=5.7, mew=0.5, mfc='#800000'),
    'MAdegree': dict(color='#008080', marker='+', ms=6.2, mew=0.9, mfc='none'),
    'Prof/PhD': dict(color='#000080', marker='D', ms=2.7, mew=0.5, mfc='#000080'),
}

W, H = 1159, 1629
fig = plt.figure(figsize=(W / 100, H / 100), dpi=100)


def fx(px):
    return px / W


def fy(py):
    return 1 - py / H


COL_LEFT = [59, 661]
PLOT_W = 500
PLOT_TOP = [[54, 475, 895, 1316], [55, 475, 896, 1316]]
PLOT_BOTTOM = [[301, 722, 1142, 1562], [303, 724, 1142, 1562]]
TITLE_CX = [280, 881]
YLABEL_X = [14.5, 615]

dollar_fmt = FuncFormatter(lambda v, pos: '${:,.0f}'.format(v * 1000))


def draw_panel(col, row, sex, cluster, ymax, series):
    left = COL_LEFT[col]
    top = PLOT_TOP[col][row]
    bottom = PLOT_BOTTOM[col][row]
    ax = fig.add_axes([fx(left), fy(bottom), PLOT_W / W, (bottom - top) / H])

    for name, vals in zip(EDUCATION, series):
        st = STYLES[name]
        x = np.arange(1, len(vals) + 1)
        ax.plot(x, vals, color=st['color'], lw=0.8, marker=st['marker'], ms=st['ms'],
                mew=st['mew'], mfc=st['mfc'], mec=st['color'], zorder=3, clip_on=False)

    ax.set_xlim(0.5, 62.5)
    ax.set_ylim(0, ymax)

    # dashed gridlines
    for y in range(10, ymax, 10):
        ax.axhline(y, color='black', lw=0.9, dashes=(11, 7), zorder=1)

    ax.yaxis.set_major_locator(MultipleLocator(10))
    ax.yaxis.set_major_formatter(dollar_fmt)
    ax.tick_params(axis='y', direction='out', length=3, width=0.7, labelsize=6, pad=2, colors='black')

    ax.set_xticks(np.arange(1, 62, 2))
    ax.set_xticklabels([str(v) for v in range(1, 62, 2)])
    ax.set_xticks(np.arange(0.5, 63, 1), minor=True)
    ax.tick_params(axis='x', which='major', length=0, labelsize=6.5, pad=6)
    ax.tick_params(axis='x', which='minor', direction='out', length=3.5, width=0.7)

    for s in ['left', 'bottom']:
        ax.spines[s].set_color('black')
        ax.spines[s].set_linewidth(0.9)
    for s in ['top', 'right']:
        ax.spines[s].set_color('#8c8c8c')
        ax.spines[s].set_linewidth(0.9)

    # titles and axis labels
    cx = TITLE_CX[col]
    fig.text(fx(cx), fy(top - 41.5), f'Earnings Profiles for {sex} by Education Level',
             ha='center', va='center', fontsize=10.7, fontweight='bold')
    fig.text(fx(cx), fy(top - 24), f'{cluster} Cluster',
             ha='center', va='center', fontsize=10.7, fontweight='bold')
    fig.text(fx(left + PLOT_W / 2), fy(bottom + 31), 'Experience (yrs)',
             ha='center', va='center', fontsize=8.5, fontweight='bold')
    fig.text(fx(YLABEL_X[col]), fy((top + bottom) / 2), 'Earnings', rotation=90,
             ha='center', va='center', fontsize=8.3, fontweight='bold')

    handles = [Line2D([], [], color=STYLES[n]['color'], lw=0.8, marker=STYLES[n]['marker'],
                      ms=STYLES[n]['ms'], mew=STYLES[n]['mew'], mfc=STYLES[n]['mfc'],
                      mec=STYLES[n]['color']) for n in EDUCATION]
    leg = ax.legend(handles, EDUCATION, loc='center',
                    bbox_to_anchor=(fx(left + PLOT_W / 2), fy(bottom + 64.5)),
                    bbox_transform=fig.transFigure, ncol=7, fontsize=8, frameon=True,
                    fancybox=False, edgecolor='black', framealpha=1,
                    handlelength=2.0, handletextpad=0.15, columnspacing=0.35,
                    borderpad=0.25, borderaxespad=0)
    leg.get_frame().set_linewidth(0.8)
    return ax


for row, cluster in enumerate(CLUSTERS):
    draw_panel(0, row, 'Males', cluster, MALE_YMAX[row], MALE_SERIES[row])
    draw_panel(1, row, 'Females', cluster, FEMALE_YMAX[row], FEMALE_SERIES[row])

# small stray marks between the rows
for yy in [409, 829, 1249]:
    fig.add_artist(Rectangle((fx(594), fy(yy + 1)), 1.5 / W, 1 / H, color='#333333',
                             lw=0, transform=fig.transFigure))

fig.savefig('out.png', dpi=100)
print('Saved chart to out.png')
